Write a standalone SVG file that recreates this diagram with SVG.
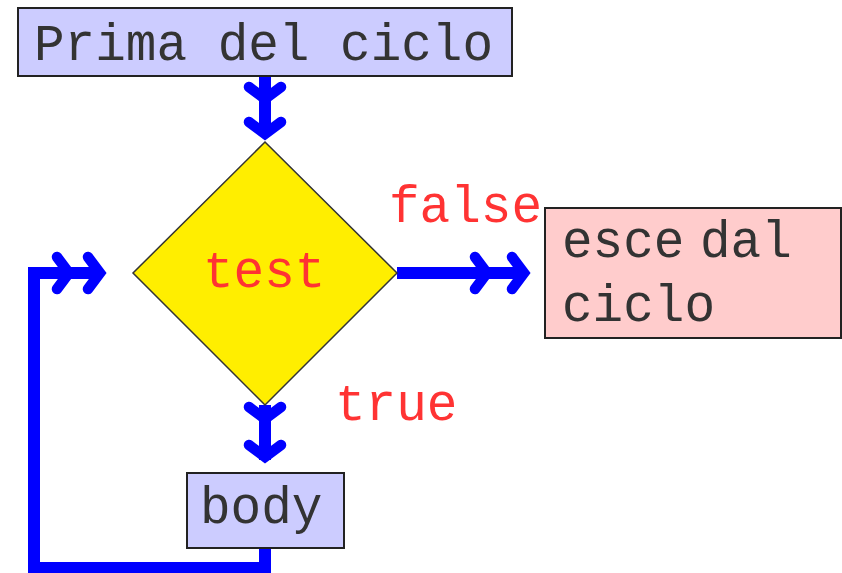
<svg xmlns="http://www.w3.org/2000/svg" xmlns:xlink="http://www.w3.org/1999/xlink" width="842" height="573" viewBox="0 0 842 573">
<style>
.box{fill:#ccccff;stroke:#222;stroke-width:2}
.pink{fill:#ffcccc;stroke:#222;stroke-width:2}
.dia{fill:#ffee00;stroke:#333;stroke-width:1.5}
.t{font-family:"Liberation Mono","Courier New",monospace;font-size:51px;fill:#333}
.r{font-family:"Liberation Mono","Courier New",monospace;font-size:51px;fill:#ff3333}
.line{fill:none;stroke:#0000ff;stroke-width:12;stroke-linejoin:miter}
.chev{fill:none;stroke:#0000ff;stroke-width:10.5;stroke-linecap:round;stroke-linejoin:miter;stroke-miterlimit:10}
</style>
<defs>
<path id="chev" class="chev" d="M-16,-18 L0,-6 L16,-18"/>
</defs>
<rect width="842" height="573" fill="#ffffff"/>
<g id="connectors">
<path class="line" d="M265,76 L265,136"/>
<use xlink:href="#chev" transform="translate(265,105)"/>
<use xlink:href="#chev" transform="translate(265,140)"/>
<path class="line" d="M397,273 L526,273"/>
<use xlink:href="#chev" transform="translate(493,273) rotate(-90)"/>
<use xlink:href="#chev" transform="translate(530,273) rotate(-90)"/>
<path class="line" d="M265,405 L265,460"/>
<use xlink:href="#chev" transform="translate(265,425)"/>
<use xlink:href="#chev" transform="translate(265,463)"/>
<path class="line" d="M265,548 L265,568 L34,568 L34,273 L102,273"/>
<use xlink:href="#chev" transform="translate(75,273) rotate(-90)"/>
<use xlink:href="#chev" transform="translate(106,273) rotate(-90)"/>
</g>
<g id="prima">
<rect class="box" x="18" y="8" width="494" height="68"/>
<text class="t" x="34" y="60">Prima del ciclo</text>
</g>
<g id="test">
<polygon class="dia" points="265,142 397,273 265,405 133,273"/>
<text class="r" x="203" y="287">test</text>
</g>
<g id="esce">
<rect class="pink" x="545" y="208" width="296" height="130"/>
<text class="t" x="562" y="257">esce</text>
<text class="t" x="700" y="257">dal</text>
<text class="t" x="562" y="321">ciclo</text>
</g>
<g id="body">
<rect class="box" x="187" y="473" width="157" height="75"/>
<text class="t" x="200" y="523">body</text>
</g>
<g id="labels">
<text class="r" x="389" y="222">false</text>
<text class="r" x="335" y="420">true</text>
</g>
</svg>
